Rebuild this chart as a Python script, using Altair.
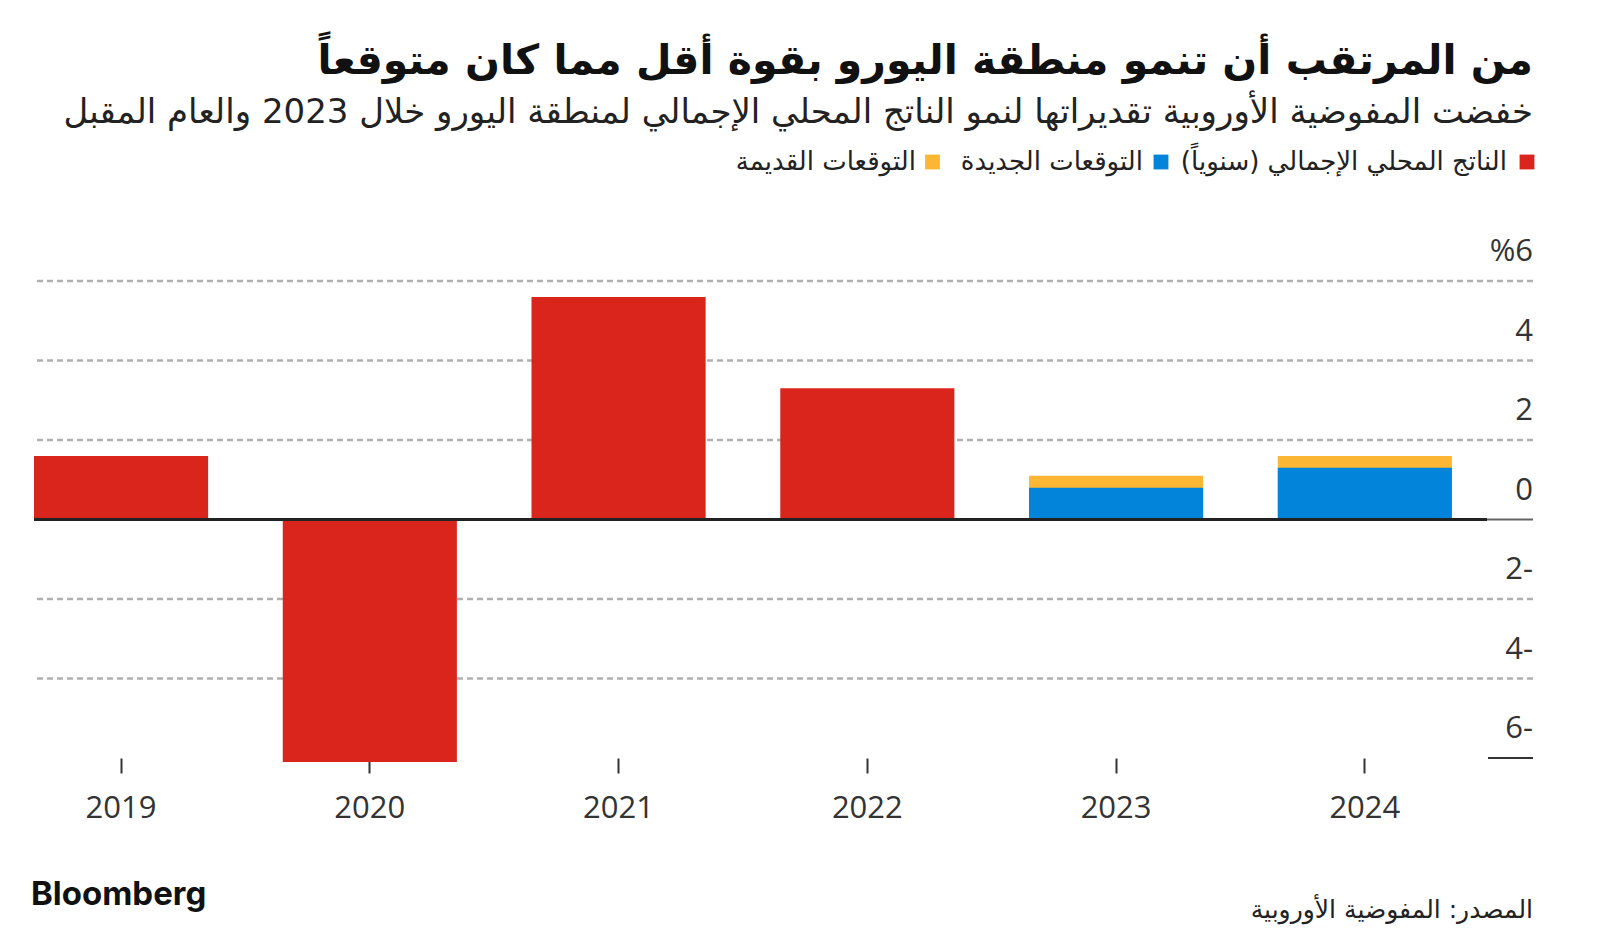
import altair as alt
import pandas as pd

# ---------------- data ----------------
years = ["2019", "2020", "2021", "2022", "2023", "2024"]
gdp_years = ["2019", "2020", "2021", "2022"]
gdp_values = [1.6, -6.1, 5.6, 3.3]
forecast_years = ["2023", "2024"]
old_forecast = [1.1, 1.6]
new_forecast = [0.8, 1.3]

grid_values = [6, 4, 2, -2, -4]
y_label_values = [6, 4, 2, 0, -2, -4, -6]
y_label_texts = ["%6", "4", "2", "0", "2-", "4-", "6-"]

title_text = "من المرتقب أن تنمو منطقة اليورو بقوة أقل مما كان متوقعاً"
subtitle_text = "خفضت المفوضية الأوروبية تقديراتها لنمو الناتج المحلي الإجمالي لمنطقة اليورو خلال 2023 والعام المقبل"
legend_labels = ["الناتج المحلي الإجمالي (سنوياً)", "التوقعات الجديدة", "التوقعات القديمة"]
source_text = "المصدر: المفوضية الأوروبية"
brand_text = "Bloomberg"

# ---------------- style / layout ----------------
RED, BLUE, YELLOW = "#DA251D", "#0284DA", "#FBB634"
legend_colors = [RED, BLUE, YELLOW]
W, H = 1499, 477
AR_FONT = "DejaVu Sans"
NUM_FONT = "Open Sans"
RLM = "\u200f"


def rtl(s):
    return RLM + s + RLM


xscale = alt.Scale(domain=years, paddingInner=0.3, paddingOuter=0.163, align=0)
yscale = alt.Scale(domain=[-6, 6], nice=False, zero=False)

x_axis = alt.Axis(
    title=None, domain=False, grid=False, ticks=True, tickSize=15, tickColor="#333333",
    tickWidth=2, labelFont=NUM_FONT, labelFontSize=31, labelColor="#333333",
    labelPadding=20, labelAngle=0, zindex=0,
)

gdp_df = pd.DataFrame({"year": gdp_years, "value": gdp_values})
old_df = pd.DataFrame({"year": forecast_years, "value": old_forecast})
new_df = pd.DataFrame({"year": forecast_years, "value": new_forecast})
grid_df = pd.DataFrame({"v": grid_values})
ylab_df = pd.DataFrame({"v": y_label_values, "t": y_label_texts})

grid = alt.Chart(grid_df).mark_rule(color="#b0b0b0", strokeWidth=2.5, strokeDash=[6, 4]).encode(
    y=alt.Y("v:Q", scale=yscale, axis=None)
)


def bar_layer(df, color):
    return alt.Chart(df).mark_bar(color=color).encode(
        x=alt.X("year:N", scale=xscale, axis=x_axis, sort=years),
        y=alt.Y("value:Q", scale=yscale, axis=None),
    )


gdp_bars = bar_layer(gdp_df, RED)
old_bars = bar_layer(old_df, YELLOW)
new_bars = bar_layer(new_df, BLUE)

zero_df = pd.DataFrame({"v": [0]})
bottom_df = pd.DataFrame({"v": [-6]})
zero_gray = alt.Chart(zero_df).mark_rule(color="#666666", strokeWidth=2).encode(
    y=alt.Y("v:Q", scale=yscale, axis=None)
)
zero_black = alt.Chart(zero_df).mark_rule(color="#222222", strokeWidth=3).encode(
    y=alt.Y("v:Q", scale=yscale, axis=None), x=alt.value(0), x2=alt.value(W - 46)
)
bottom_line = alt.Chart(bottom_df).mark_rule(color="#333333", strokeWidth=2).encode(
    y=alt.Y("v:Q", scale=yscale, axis=None), x=alt.value(W - 45), x2=alt.value(W)
)

ylabels = alt.Chart(ylab_df).mark_text(
    font=NUM_FONT, fontSize=31, color="#333333", align="right", baseline="alphabetic", dy=-20
).encode(
    y=alt.Y("v:Q", scale=yscale, axis=None), x=alt.value(W), text="t:N"
)


def text_layer(s, x, y, **kw):
    return alt.Chart(pd.DataFrame({"t": [s]})).mark_text(**kw).encode(
        text="t:N", x=alt.value(x), y=alt.value(y)
    )


title = text_layer(rtl(title_text), W, -207, font=AR_FONT, fontSize=41, fontWeight="bold",
                   color="#111111", align="right", baseline="alphabetic")
subtitle = text_layer(rtl(subtitle_text), W, -158, font=AR_FONT, fontSize=34,
                      color="#222222", align="right", baseline="alphabetic")

legend_square_x = [1493, 1127, 898.5]
legend_text_x = [1473, 1109, 882]
legend_layers = []
for lab, col, sx, tx in zip(legend_labels, legend_colors, legend_square_x, legend_text_x):
    legend_layers.append(
        alt.Chart(pd.DataFrame({"t": [lab]})).mark_square(color=col, size=220, opacity=1, filled=True).encode(
            x=alt.value(sx), y=alt.value(-119)
        )
    )
    legend_layers.append(
        text_layer(rtl(lab), tx, -111, font=AR_FONT, fontSize=26, color="#222222",
                   align="right", baseline="alphabetic")
    )

brand = text_layer(brand_text, -3, 624, font="Inter", fontSize=33, fontWeight="bold",
                   color="#111111", align="left", baseline="alphabetic")
source = text_layer(rtl(source_text), W, 637, font=AR_FONT, fontSize=25, color="#222222",
                    align="right", baseline="alphabetic")

chart = alt.layer(
    grid, gdp_bars, old_bars, new_bars, zero_gray, zero_black, bottom_line, ylabels,
    title, subtitle, *legend_layers, brand, source,
).properties(
    width=W, height=H,
    padding={"left": 34, "top": 281, "right": 67, "bottom": 191},
    autosize=alt.AutoSizeParams(type="none"),
    background="white",
).configure_view(stroke=None)

chart.save("out.html", embed_options={"renderer": "svg", "actions": False})
